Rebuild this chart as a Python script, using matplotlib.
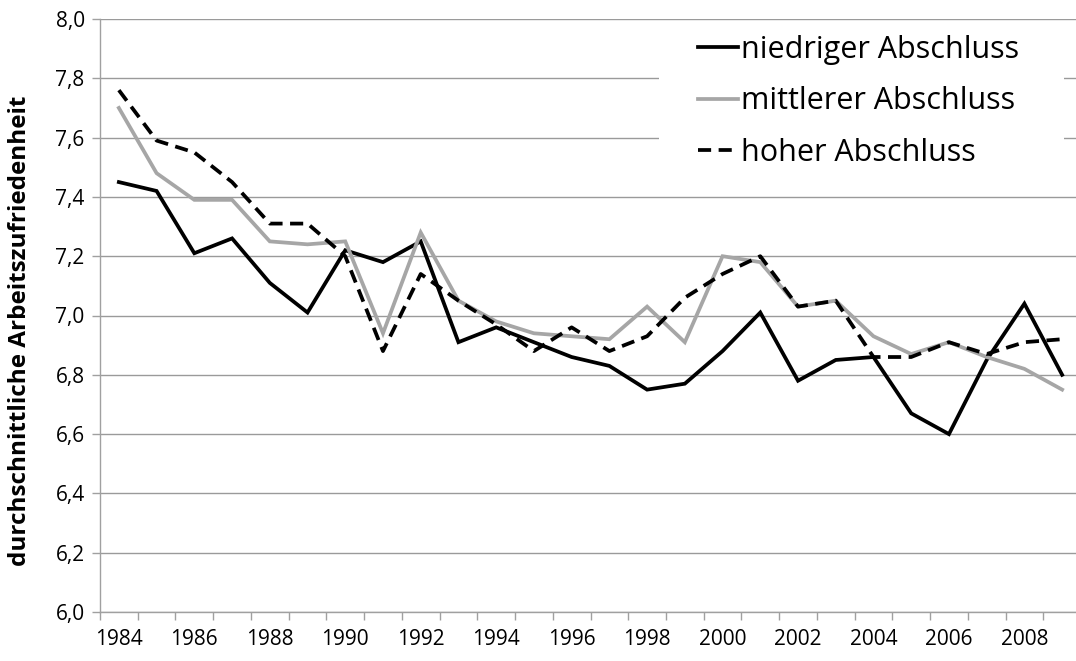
import matplotlib
matplotlib.use("Agg")
import matplotlib.pyplot as plt
from matplotlib.ticker import FuncFormatter, MultipleLocator
from matplotlib.patches import Rectangle

years = list(range(1984, 2010))
niedrig = [7.45, 7.42, 7.21, 7.26, 7.11, 7.01, 7.22, 7.18, 7.25, 6.91,
           6.96, 6.91, 6.86, 6.83, 6.75, 6.77, 6.88, 7.01, 6.78, 6.85,
           6.86, 6.67, 6.60, 6.85, 7.04, 6.80]
mittel = [7.70, 7.48, 7.39, 7.39, 7.25, 7.24, 7.25, 6.94, 7.28, 7.05,
          6.98, 6.94, 6.93, 6.92, 7.03, 6.91, 7.20, 7.18, 7.03, 7.05,
          6.93, 6.87, 6.91, 6.86, 6.82, 6.75]
hoch = [7.76, 7.59, 7.55, 7.45, 7.31, 7.31, 7.20, 6.88, 7.14, 7.05,
        6.97, 6.88, 6.96, 6.88, 6.93, 7.06, 7.14, 7.20, 7.03, 7.05,
        6.86, 6.86, 6.91, 6.87, 6.91, 6.92]
labels = ["niedriger Abschluss", "mittlerer Abschluss", "hoher Abschluss"]

plt.rcParams['font.family'] = ['Open Sans', 'DejaVu Sans']

W, H = 1076, 661
fig = plt.figure(figsize=(W/100, H/100), dpi=100)
ax = fig.add_axes([100/W, 49/H, 981/W, 593/H])

ax.plot(years, niedrig, color='black', lw=2.7, label=labels[0], solid_joinstyle='miter', zorder=3)
ax.plot(years, mittel, color='#a6a6a6', lw=2.7, label=labels[1], solid_joinstyle='miter', zorder=3)
ax.plot(years, hoch, color='black', lw=2.7, ls=(0, (3.5, 2.0)), label=labels[2], zorder=3)

ax.set_xlim(1983.5, 2009.5)
ax.set_ylim(6.0, 8.0)
ax.yaxis.set_major_locator(MultipleLocator(0.2))
ax.yaxis.set_major_formatter(FuncFormatter(lambda v, p: f"{v:.1f}".replace('.', ',')))
ax.set_xticks(years[::2])
ax.set_xticks([y - 0.5 for y in years] + [2009.5], minor=True)
ax.tick_params(axis='x', which='major', length=0, pad=12, labelsize=15)
ax.tick_params(axis='x', which='minor', length=6, color='#a0a0a0', width=1)
ax.tick_params(axis='y', length=6, color='#a0a0a0', width=1, labelsize=15, pad=5)

ax.grid(axis='y', color='#9a9a9a', lw=1, zorder=0.5)
ax.set_axisbelow(True)
for s in ['top', 'right']:
    ax.spines[s].set_visible(False)
for s in ['left', 'bottom']:
    ax.spines[s].set_color('#a0a0a0')
    ax.spines[s].set_linewidth(1)

ax.set_ylabel("durchschnittliche Arbeitszufriedenheit", fontsize=17.5, fontweight='bold')
ax.yaxis.set_label_coords(-0.069, 0.475)

# white legend background covering the gridlines
ax.add_patch(Rectangle((0.570, 0.72), 0.413, 0.26, transform=ax.transAxes,
                       facecolor='white', edgecolor='none', zorder=1))

leg = ax.legend(loc='upper left', bbox_to_anchor=(698/W, 1 - 35/H), bbox_transform=fig.transFigure,
                frameon=False, fontsize=22, handlelength=1.32, handletextpad=0.1,
                labelspacing=0.7, borderpad=0, borderaxespad=0)

fig.savefig("out.png", dpi=100)
